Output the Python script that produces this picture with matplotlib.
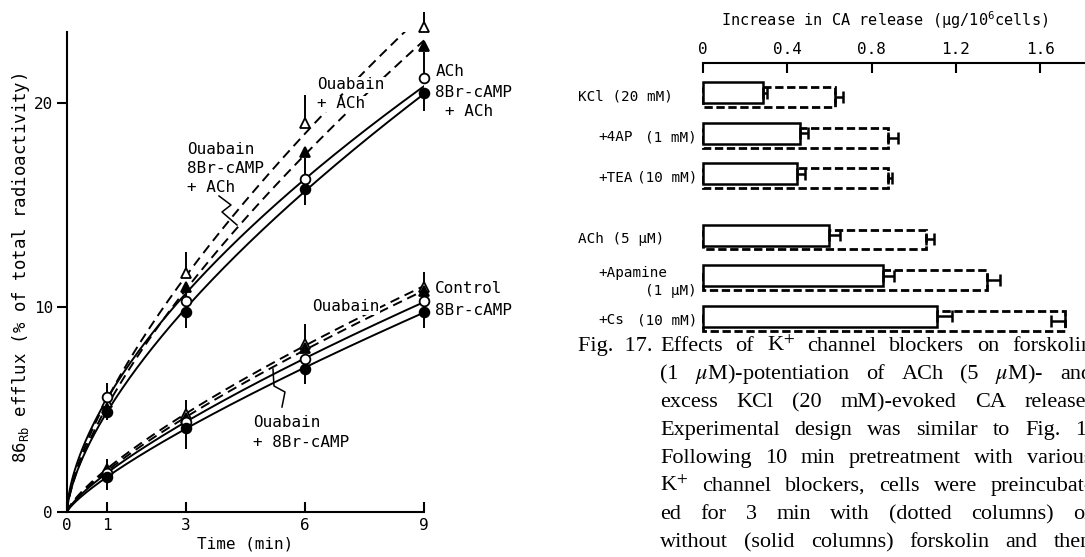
import numpy as np
import matplotlib
matplotlib.use("Agg")
import matplotlib.pyplot as plt
from matplotlib.transforms import blended_transform_factory

plt.rcParams['font.family'] = ['DejaVu Sans Mono']
plt.rcParams['mathtext.fontset'] = 'custom'
plt.rcParams['mathtext.rm'] = 'DejaVu Sans Mono'
plt.rcParams['mathtext.it'] = 'DejaVu Sans Mono:italic'
plt.rcParams['mathtext.bf'] = 'DejaVu Sans Mono:bold'

# ---------------- data: left panel (86Rb efflux, % of total) ----------------
x_ticks = [0, 1, 3, 6, 9]
y_ticks = [0, 10, 20]
times = [1, 3, 6, 9]
ouabain_ach = [5.4, 11.7, 19.0, 23.7]          # open triangle, dashed
ouabain_8br_ach = [5.1, 11.0, 17.6, 22.8]      # filled triangle, dashed
ach = [5.6, 10.3, 16.3, 21.2]                  # open circle, solid
br_ach = [4.9, 9.8, 15.8, 20.5]                # filled circle, solid
ouabain = [2.1, 4.8, 8.2, 11.0]                # open triangle, dashed
ouabain_8br = [2.0, 4.6, 8.0, 10.8]            # filled triangle, dashed
control = [1.9, 4.4, 7.5, 10.3]                # open circle, solid
br = [1.7, 4.1, 7.0, 9.8]                      # filled circle, solid
# one-sided S.E. (positive = drawn upward, negative = downward)
ouabain_ach_se = [0.3, 1.0, 1.4, 0.75]
ach_se = [0.7, 0.6, 1.0, 1.3]
br_ach_se = [-0.4, -0.8, -0.8, -0.9]
ouabain_se = [0.5, 0.7, 1.0, 0.75]
br_se = [-0.6, -1.0, -0.75, -0.8]

# ---------------- data: right panel (increase in CA release) ----------------
row_labels_left = ['KCl (20 mM)', '+4AP', '+TEA', 'ACh (5 µM)', '+Apamine', '+Cs']
row_labels_right = ['', '(1 mM)', '(10 mM)', '', '(1 µM)', '(10 mM)']
row_pos = [0, 1, 2, 3.5, 4.5, 5.5]
without_fsk = [0.285, 0.46, 0.446, 0.598, 0.854, 1.11]
without_se = [0.018, 0.04, 0.038, 0.05, 0.052, 0.07]
with_fsk = [0.626, 0.878, 0.878, 1.058, 1.348, 1.718]
with_se = [0.04, 0.045, 0.02, 0.04, 0.06, -0.067]
ca_ticks = [0, 0.4, 0.8, 1.2, 1.6]
ca_ticklabels = ['0', '0.4', '0.8', '1.2', '1.6']

W, H = 1085, 557
fig = plt.figure(figsize=(W / 100, H / 100), dpi=100)
fig.patch.set_facecolor('white')

# ================= left panel =================
ax = fig.add_axes([67 / W, 1 - 512 / H, 357 / W, 480 / H])
ax.set_xlim(0, 9)
ax.set_ylim(0, 23.47)
for s in ['top', 'right']:
    ax.spines[s].set_visible(False)
for s in ['left', 'bottom']:
    ax.spines[s].set_linewidth(1.5)
ax.set_xticks(x_ticks)
ax.set_yticks(y_ticks)
ax.tick_params(axis='x', direction='in', length=7, width=1.5, labelsize=11.5, pad=4)
ax.tick_params(axis='y', direction='out', length=7, width=1.5, labelsize=11.5, pad=3)
ax.set_xlabel('Time (min)', fontsize=11.5, labelpad=3)
fig.text(21 / W, 1 - 268 / H, '86$_{\\mathrm{Rb}}$ efflux (% of total radioactivity)',
         rotation=90, ha='center', va='center', fontsize=12.5)

tt = np.linspace(0.0, 9.0, 400)
tt_fit = np.where(tt == 0, 1e-9, tt)


def power_fit(t, y):
    b, loga = np.polyfit(np.log(t), np.log(y), 1)
    return np.exp(loga) * tt_fit ** b


series = [
    (ouabain_ach, '^', 'white', (0, (5, 3)), ouabain_ach_se),
    (ouabain_8br_ach, '^', 'black', (0, (5, 3)), None),
    (ach, 'o', 'white', '-', ach_se),
    (br_ach, 'o', 'black', '-', br_ach_se),
    (ouabain, '^', 'white', (0, (5, 3)), ouabain_se),
    (ouabain_8br, '^', 'black', (0, (5, 3)), None),
    (control, 'o', 'white', '-', None),
    (br, 'o', 'black', '-', br_se),
]
for vals, mk, fc, ls, se in series:
    ax.plot(tt, power_fit(times, vals), color='black', lw=1.4, ls=ls, zorder=2)
    if se is not None:
        v = np.array(vals)
        e = np.array(se)
        ax.vlines(times, v, v + e, color='black', lw=1.4, zorder=3, clip_on=False)
    ax.plot(times, vals, ls='none', marker=mk, ms=7, mfc=fc, mec='black', mew=1.3,
            zorder=4, clip_on=False)


def P(px, py):
    return ((px - 67) / 39.67, (512 - py) / 20.45)


fs_lab = 11.5
wbox = dict(facecolor='white', edgecolor='none', pad=0.3)
ax.text(*P(317, 85), 'Ouabain', fontsize=fs_lab, va='center', ha='left', bbox=wbox, zorder=3)
ax.text(*P(317, 104), '+ ACh', fontsize=fs_lab, va='center', ha='left', bbox=wbox, zorder=3)
ax.text(*P(436, 72), 'ACh', fontsize=fs_lab, va='center', ha='left')
ax.text(*P(435, 93), '8Br-cAMP', fontsize=fs_lab, va='center', ha='left', clip_on=False)
ax.text(*P(445, 112), '+ ACh', fontsize=fs_lab, va='center', ha='left', clip_on=False)
ax.text(*P(187, 150), 'Ouabain', fontsize=fs_lab, va='center', ha='left')
ax.text(*P(187, 169), '8Br-cAMP', fontsize=fs_lab, va='center', ha='left')
ax.text(*P(187, 188), '+ ACh', fontsize=fs_lab, va='center', ha='left')
ax.text(*P(435, 289), 'Control', fontsize=fs_lab, va='center', ha='left', clip_on=False)
ax.text(*P(435, 311), '8Br-cAMP', fontsize=fs_lab, va='center', ha='left', clip_on=False)
ax.text(*P(312, 307), 'Ouabain', fontsize=fs_lab, va='center', ha='left', bbox=wbox, zorder=3)
ax.text(*P(253, 423), 'Ouabain', fontsize=fs_lab, va='center', ha='left')
ax.text(*P(253, 443), '+ 8Br-cAMP', fontsize=fs_lab, va='center', ha='left')

zz1 = [P(219, 196), P(231, 205), P(222, 212), P(237, 225)]
ax.plot([p[0] for p in zz1], [p[1] for p in zz1], color='black', lw=1.1, zorder=3)
zz2 = [P(282, 407), P(285, 392), P(274, 386), P(273, 369)]
ax.plot([p[0] for p in zz2], [p[1] for p in zz2], color='black', lw=1.1, zorder=3)

# ================= right panel =================
ax2 = fig.add_axes([703 / W, 1 - 340 / H, (W - 703) / W, 277 / H])
ax2.set_xlim(0, (W - 703) / 210.75)
ax2.set_ylim(6.03, -0.774)
for s in ['left', 'right', 'bottom']:
    ax2.spines[s].set_visible(False)
ax2.spines['top'].set_linewidth(1.5)
ax2.xaxis.tick_top()
ax2.set_xticks(ca_ticks)
ax2.set_xticklabels(ca_ticklabels)
ax2.set_yticks([])
ax2.tick_params(axis='x', direction='in', length=7, width=1.5, labelsize=11.5, pad=4)
ax2.patch.set_alpha(0)

pos = np.array(row_pos)
ax2.barh(pos + 0.061, with_fsk, height=0.49, facecolor='none', edgecolor='black',
         linewidth=2.0, linestyle=(0, (3, 1.3)), zorder=2, clip_on=False)
ax2.barh(pos - 0.049, without_fsk, height=0.516, facecolor='white', edgecolor='black',
         linewidth=1.8, zorder=3, clip_on=False)

wse = np.array(without_se)
ax2.errorbar(without_fsk, pos - 0.049, xerr=[np.zeros_like(wse), wse], fmt='none',
             ecolor='black', elinewidth=1.8, capsize=4.5, capthick=1.8, zorder=4)
dse = np.array(with_se)
ax2.errorbar(with_fsk, pos + 0.061, xerr=[np.clip(-dse, 0, None), np.clip(dse, 0, None)],
             fmt='none', ecolor='black', elinewidth=1.8, capsize=4.5, capthick=1.8,
             zorder=4, clip_on=False)

bt = blended_transform_factory(fig.transFigure, ax2.transData)
for lab_l, lab_r, p in zip(row_labels_left, row_labels_right, row_pos):
    if lab_l.startswith('+'):
        if lab_l == '+Apamine':
            fig.text(598 / W, p - 0.11, lab_l, transform=bt, fontsize=10.3, va='center', ha='left')
            fig.text(697 / W, p + 0.33, lab_r, transform=bt, fontsize=10.3, va='center', ha='right')
        else:
            fig.text(598 / W, p + 0.05, lab_l, transform=bt, fontsize=10.3, va='center', ha='left')
            fig.text(697 / W, p + 0.05, lab_r, transform=bt, fontsize=10.3, va='center', ha='right')
    else:
        fig.text(578 / W, p + 0.05, lab_l, transform=bt, fontsize=10.3, va='center', ha='left')

fig.text(885 / W, 1 - 20 / H, 'Increase in CA release (µg/10$^{6}$cells)',
         ha='center', va='center', fontsize=11)

# ================= caption =================
cap_kw = dict(fontfamily='Liberation Serif', fontsize=16, math_fontfamily='stix',
              va='baseline', ha='left')
caption_lines = [
    'Effects of K$^{+}$ channel blockers on forskolin',
    '(1 $\\mu$M)-potentiation of ACh (5 $\\mu$M)- and',
    'excess KCl (20 mM)-evoked CA release.',
    'Experimental design was similar to Fig. 1.',
    'Following 10 min pretreatment with various',
    'K$^{+}$ channel blockers, cells were preincubat-',
    'ed for 3 min with (dotted columns) or',
    'without (solid columns) forskolin and then',
]
renderer = fig.canvas.get_renderer()
fig.text(578 / W, 1 - 351 / H, 'Fig.  17.', **cap_kw)
x_start, x_end = 660.0, 1092.0
for i, line in enumerate(caption_lines):
    yb = 1 - (351 + 28 * i) / H
    words = line.split(' ')
    txts = [fig.text(0, yb, w, **cap_kw) for w in words]
    widths = [t.get_window_extent(renderer).width for t in txts]
    gap = (x_end - x_start - sum(widths)) / max(len(words) - 1, 1)
    x = x_start
    for t, w in zip(txts, widths):
        t.set_x(x / W)
        x += w + gap

fig.savefig('out.png', dpi=100, facecolor='white')
